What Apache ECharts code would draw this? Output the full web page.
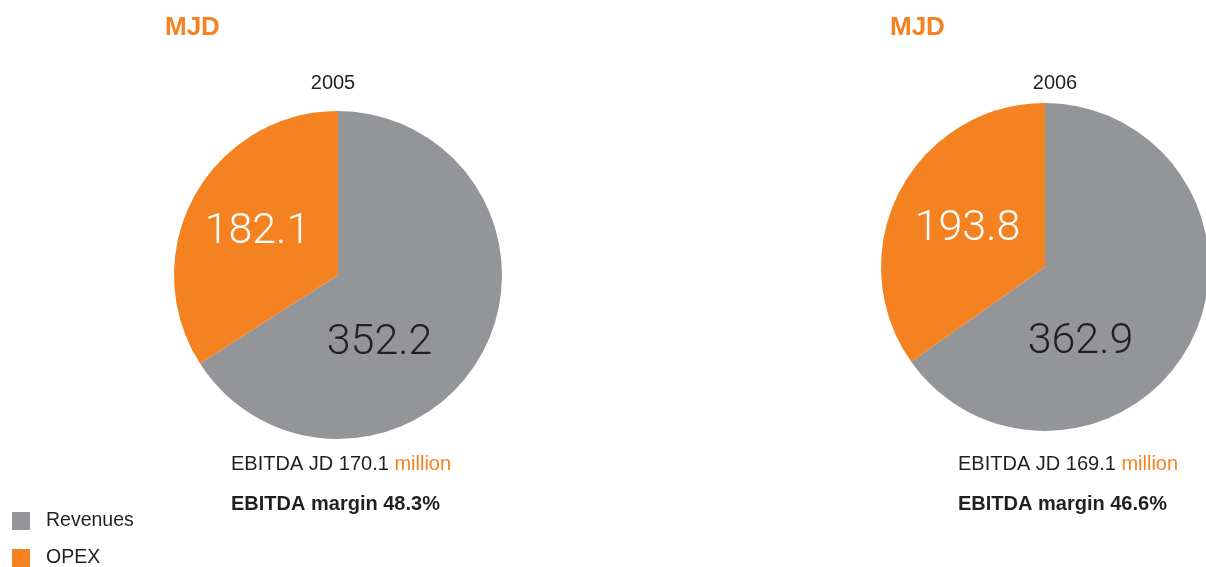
<!DOCTYPE html>
<html>
<head>
<meta charset="utf-8">
<script src="https://cdn.jsdelivr.net/npm/echarts@6/dist/echarts.min.js"></script>
<style>
html,body{margin:0;padding:0;background:#fff;}
#c{width:1206px;height:567px;}
</style>
</head>
<body>
<div id="c"></div>
<script>
const years = ['2005', '2006'];
const categories = ['Revenues', 'OPEX'];
const revenues = [352.2, 362.9];
const opex = [182.1, 193.8];
const ebitda = [170.1, 169.1];
const margins = [48.3, 46.6];
const company = 'MJD';

const GRAY = '#939598';
const ORANGE = '#F58220';
const DARK = '#231F20';
const FONT = 'Liberation Sans, Arial, sans-serif';

const layout = [
  { cx: 338, cy: 275, titleLeft: 165, yearX: 333, textLeft: 231, grayOff: [-33, 27], orOff: [-6, -2] },
  { cx: 1045, cy: 267, titleLeft: 890, yearX: 1055, textLeft: 958, grayOff: [-40, 36], orOff: [-2, 1] }
];

const titles = [];
const series = [];
years.forEach((y, i) => {
  const L = layout[i];
  titles.push({
    text: company, left: L.titleLeft, top: 13, padding: 0,
    textStyle: { color: ORANGE, fontSize: 26, fontWeight: 'bold', fontFamily: FONT, lineHeight: 30 }
  });
  titles.push({
    text: y, left: L.yearX, top: 71, padding: 0, textAlign: 'center',
    textStyle: { color: DARK, fontSize: 20, fontWeight: 'normal', fontFamily: FONT, lineHeight: 24 }
  });
  titles.push({
    text: '{a|EBITDA JD ' + ebitda[i].toFixed(1) + ' }{b|million}', left: L.textLeft, top: 453, padding: 0,
    textStyle: {
      fontSize: 20, fontFamily: FONT, lineHeight: 22,
      rich: {
        a: { color: DARK, fontSize: 20, fontFamily: FONT, fontWeight: 'normal' },
        b: { color: ORANGE, fontSize: 20, fontFamily: FONT, fontWeight: 'normal' }
      }
    }
  });
  titles.push({
    text: 'EBITDA margin ' + margins[i].toFixed(1) + '%', left: L.textLeft, top: 493, padding: 0,
    textStyle: { color: DARK, fontSize: 20, fontWeight: 'bold', fontFamily: FONT, lineHeight: 22 }
  });
  series.push({
    type: 'pie',
    center: [L.cx, L.cy],
    radius: [0, 164],
    startAngle: 90,
    clockwise: true,
    silent: true,
    animation: false,
    labelLine: { show: false },
    emphasis: { disabled: true },
    itemStyle: { borderWidth: 0 },
    label: {
      show: true, position: 'inside', formatter: '{c}',
      fontSize: 43, fontWeight: 300, fontFamily: 'Roboto, ' + FONT
    },
    data: [
      { name: categories[0], value: revenues[i], itemStyle: { color: GRAY },
        label: { color: DARK, offset: L.grayOff } },
      { name: categories[1], value: opex[i], itemStyle: { color: ORANGE },
        label: { color: '#ffffff', offset: L.orOff } }
    ]
  });
});

const chart = echarts.init(document.getElementById('c'));
chart.setOption({
  backgroundColor: '#ffffff',
  animation: false,
  title: titles,
  legend: {
    data: categories,
    orient: 'vertical',
    left: 12, top: 511, height: 120,
    itemWidth: 18, itemHeight: 18, itemGap: 17,
    icon: 'rect',
    selectedMode: false,
    padding: 0,
    textStyle: { color: DARK, fontSize: 19.5, lineHeight: 18, fontFamily: FONT, padding: [2, 0, 0, 11] }
  },
  series: series
});
</script>
</body>
</html>
